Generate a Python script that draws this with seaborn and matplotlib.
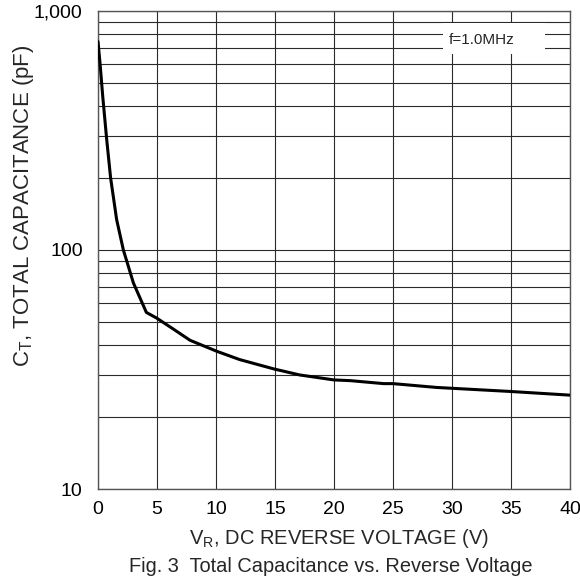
import numpy as np
import pandas as pd
import matplotlib
matplotlib.use("Agg")
import matplotlib.pyplot as plt
from matplotlib.patches import Rectangle
from matplotlib.ticker import FixedLocator, NullFormatter
import seaborn as sns

# Curve (reverse voltage in V, capacitance in pF)
voltage = [0, 0.17, 0.4, 0.74, 1.07, 1.58, 2.15, 3.0, 4.1, 4.97, 6.38, 7.8,
           10.06, 12.0, 14.9, 17.1, 20.0, 21.4, 24.2, 25.0, 28.7, 34.9, 40.0]
capacitance = [745, 606, 440, 289, 200, 134, 100, 72.8, 54.8, 51.9, 46.7, 41.9,
               37.7, 34.8, 31.8, 30.0, 28.6, 28.4, 27.6, 27.6, 26.6, 25.6, 24.7]

x_ticks = [0, 5, 10, 15, 20, 25, 30, 35, 40]
y_ticks = [10, 100, 1000]
y_tick_labels = ["10", "100", "1,000"]

sns.set_theme(style="white")
plt.rcParams['font.family'] = ['Liberation Sans', 'DejaVu Sans']
plt.rcParams['mathtext.default'] = 'regular'

df = pd.DataFrame({"V": voltage, "C": capacitance})

fig = plt.figure(figsize=(5.8, 5.8), dpi=100)
ax = fig.add_axes([98 / 580, 1 - 489 / 580, 472 / 580, 478 / 580])

sns.lineplot(data=df, x="V", y="C", color="black", linewidth=2.2,
             estimator=None, sort=False, ax=ax, zorder=4)

ax.set_yscale("log")
ax.set_xlim(0, 40)
ax.set_ylim(10, 1000)

# grid: every 5 V, every log minor step
ax.set_xticks(x_ticks)
ax.set_yticks(y_ticks)
ax.set_yticklabels(y_tick_labels)
ax.yaxis.set_minor_locator(FixedLocator([m * d for d in (10, 100) for m in range(2, 10)]))
ax.yaxis.set_minor_formatter(NullFormatter())
ax.grid(True, which="both", color="#2a2a2a", linewidth=0.8)
ax.set_axisbelow(True)

ax.tick_params(axis="both", which="both", length=0, labelsize=14, colors="black")
ax.tick_params(axis="x", pad=9)
ax.tick_params(axis="y", pad=11)

for spine in ax.spines.values():
    spine.set_color("#555555")
    spine.set_linewidth(1.0)

ax.set_xlabel("V$_R$, DC REVERSE VOLTAGE (V)", fontsize=14.5)
ax.xaxis.set_label_coords(0.511, -0.0795)
ax.set_ylabel("C$_T$, TOTAL CAPACITANCE (pF)", fontsize=16)
ax.yaxis.set_label_coords(-0.131, 0.592)

# frequency note with white box over the grid
ax.add_patch(Rectangle((29.2, 662), 8.7, 893 - 662, facecolor="white",
                       edgecolor="none", zorder=2))
ax.text(29.7, 759, "f=1.0MHz", fontsize=11, ha="left", va="center", zorder=3)

fig.text(331 / 580, 1 - 566 / 580, "Fig. 3  Total Capacitance vs. Reverse Voltage",
         ha="center", va="center", fontsize=14.4)

fig.savefig("out.png", dpi=100, facecolor="white")
